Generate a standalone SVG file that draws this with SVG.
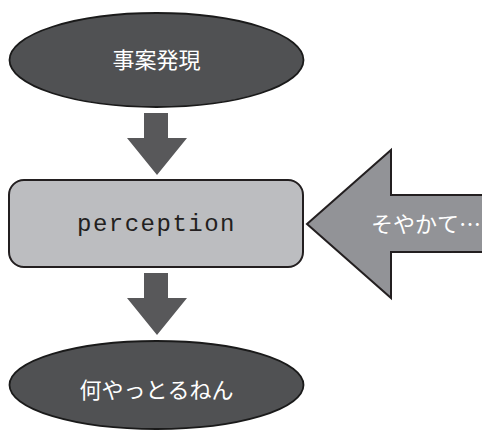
<svg xmlns="http://www.w3.org/2000/svg" width="482" height="430" viewBox="0 0 482 430">
<style>
.ell{fill:#505153;stroke:#1a1a1a;stroke-width:1.8}
.jt{fill:#ffffff;font-family:"Noto Sans CJK JP","Noto Sans",sans-serif;font-size:22px;text-anchor:middle}
.dn{fill:#58585a}
</style>
<rect width="482" height="430" fill="#ffffff"/>
<g id="node-jian">
<ellipse class="ell" cx="156.5" cy="60" rx="147" ry="47"/>
<text class="jt" x="156.5" y="68">事案発現</text>
</g>
<g id="node-perception">
<rect x="9" y="180" width="294" height="87" rx="15" ry="15" fill="#bcbdc0" stroke="#231f20" stroke-width="2"/>
<text x="156.5" y="231" fill="#231f20" font-family="'Liberation Mono',monospace" font-size="24" letter-spacing="1.5" text-anchor="middle">perception</text>
</g>
<g id="node-nani">
<ellipse class="ell" cx="156.5" cy="385" rx="147" ry="44"/>
<text class="jt" x="156.5" y="398">何やっとるねん</text>
</g>
<g id="node-soyakate">
<path d="M307,224 L391,150 L391,195 L484,195 L484,252 L391,252 L391,298 Z" fill="#929397" stroke="#231f20" stroke-width="2" stroke-linejoin="miter"/>
<text class="jt" x="426" y="232">そやかて…</text>
</g>
<g id="connectors">
<path class="dn" d="M144,113 L168,113 L168,138 L187,138 L157,175 L127,138 L144,138 Z"/>
<path class="dn" d="M144,273 L168,273 L168,298 L187,298 L157,335 L127,298 L144,298 Z"/>
</g>
</svg>
